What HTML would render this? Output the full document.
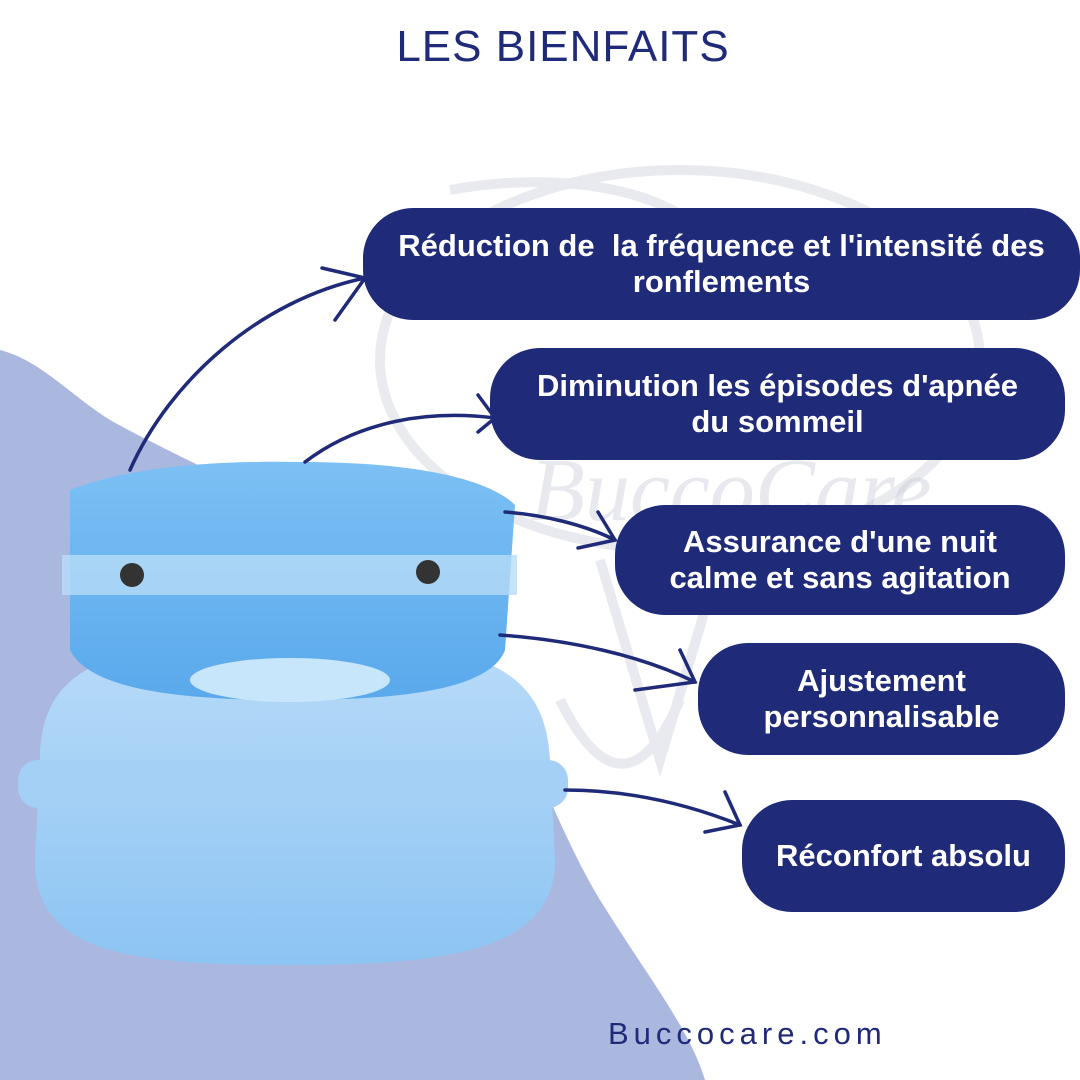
<!DOCTYPE html>
<html><head><meta charset="utf-8">
<style>
html,body{margin:0;padding:0;}
body{width:1080px;height:1080px;position:relative;overflow:hidden;background:#fff;font-family:"Liberation Sans",sans-serif;}
.title{position:absolute;top:22px;left:0;width:1126px;text-align:center;font-size:44px;color:#1f2a78;letter-spacing:1px;font-weight:300;}
.pill{position:absolute;background:#1f2a78;border-radius:50px;color:#fff;font-weight:bold;font-size:31px;line-height:36px;display:flex;align-items:center;justify-content:center;text-align:center;}
.foot{position:absolute;top:1016px;left:608px;font-size:31px;color:#1f2a78;letter-spacing:5px;}
svg{position:absolute;left:0;top:0;}
</style></head><body>
<svg width="1080" height="1080" viewBox="0 0 1080 1080">
  <path d="M0,350 C40,360 70,395 110,420 C200,470 330,520 420,600 C520,690 540,800 600,900 C650,980 690,1030 705,1080 L0,1080 Z" fill="#aab8e0"/>
  <g opacity="0.18" fill="none" stroke="#8a8fa8" stroke-width="10">
    <path d="M450,190 C560,170 660,190 700,230"/>
    <path d="M560,700 C600,780 640,790 680,700"/>
    <path d="M600,560 L660,760 L720,560"/>
    <ellipse cx="680" cy="360" rx="300" ry="190"/>
  </g>
  <text x="530" y="520" font-family="Liberation Serif" font-style="italic" font-size="90" fill="#c8c9d6" opacity="0.4">BuccoCare</text>
  <defs>
    <linearGradient id="cg" x1="0" y1="0" x2="0" y2="1">
      <stop offset="0" stop-color="#b9dbf8"/><stop offset="1" stop-color="#8cc4f3"/>
    </linearGradient>
    <linearGradient id="mg" x1="0" y1="0" x2="0" y2="1">
      <stop offset="0" stop-color="#7cc0f4"/><stop offset="1" stop-color="#5aa9ec"/>
    </linearGradient>
  </defs>
  <path d="M40,760 C40,660 120,640 290,640 C470,640 545,660 550,760 L555,860 C555,950 450,965 290,965 C120,965 35,950 35,860 Z" fill="url(#cg)"/>
  <rect x="18" y="760" width="550" height="48" rx="20" fill="#a4d0f6"/>
  <path d="M70,490 C120,470 200,460 300,462 C420,462 490,480 515,505 L505,650 C490,690 400,700 290,700 C180,700 90,690 70,650 Z" fill="url(#mg)"/>
  <rect x="62" y="555" width="455" height="40" fill="#b6dcf8" opacity="0.8"/>
  <ellipse cx="290" cy="680" rx="100" ry="22" fill="#c8e6fb"/>
  <circle cx="132" cy="575" r="12" fill="#333"/><circle cx="428" cy="572" r="12" fill="#333"/>
  <g fill="none" stroke="#1f2a78" stroke-width="3.5" stroke-linecap="round">
    <path d="M130,470 C170,380 260,300 365,278"/><path d="M322,268 L365,278 L335,320"/>
    <path d="M305,462 C360,420 430,410 495,418"/><path d="M478,395 L495,418 L478,432"/>
    <path d="M505,512 C545,515 585,525 615,540"/><path d="M598,512 L615,540 L578,548"/>
    <path d="M500,635 C570,640 640,655 695,682"/><path d="M680,650 L695,682 L635,690"/>
    <path d="M565,790 C630,790 690,805 740,825"/><path d="M725,792 L740,825 L705,832"/>
  </g>
</svg>
<div class="title">LES BIENFAITS</div>
<div class="pill" style="left:363px;top:208px;width:717px;height:112px;">Réduction de&nbsp; la fréquence et l'intensité des<br>ronflements</div>
<div class="pill" style="left:490px;top:348px;width:575px;height:112px;">Diminution les épisodes d'apnée<br>du sommeil</div>
<div class="pill" style="left:615px;top:505px;width:450px;height:110px;">Assurance d'une nuit<br>calme et sans agitation</div>
<div class="pill" style="left:698px;top:643px;width:367px;height:112px;">Ajustement<br>personnalisable</div>
<div class="pill" style="left:742px;top:800px;width:323px;height:112px;">Réconfort absolu</div>
<div class="foot">Buccocare.com</div>
</body></html>
